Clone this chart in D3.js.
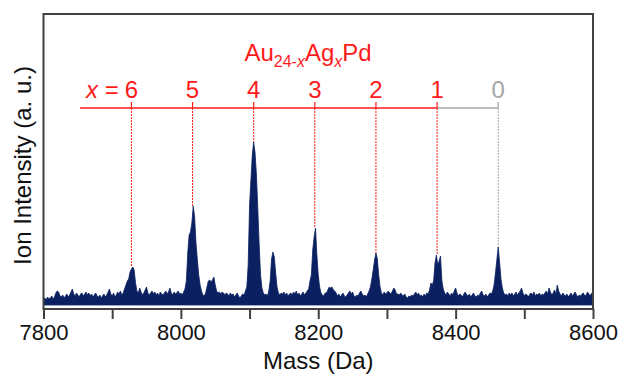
<!DOCTYPE html>
<html>
<head>
<meta charset="utf-8">
<script src="https://cdn.jsdelivr.net/npm/d3@7"></script>
<style>
  html, body { margin: 0; padding: 0; background: #fff; }
  svg { display: block; font-family: "Liberation Sans", Arial, sans-serif; }
</style>
</head>
<body>
<svg id="chart" width="620" height="379"></svg>
<script>
// Mass spectrum of Au(24-x)Ag(x)Pd clusters, 7800–8600 Da.

// Spectrum sampled every 2 Da starting at 7800 Da (intensity, arbitrary units)
const massStart = 7800;
const massStep = 2;
const intensity = [
  // 7800–7838
  6, 7, 5, 8, 6, 7, 9, 6, 8, 12, 14, 13, 9, 8, 10, 7, 9, 11, 8, 10,
  // 7840–7878
  13, 16, 11, 9, 12, 10, 8, 11, 12, 9, 11, 13, 10, 12, 9, 11, 8, 10, 12, 9,
  // 7880–7918
  8, 10, 7, 9, 11, 8, 10, 13, 16, 11, 9, 12, 8, 10, 13, 11, 14, 10, 12, 16,
  // 7920–7958
  20, 24, 26, 33, 36, 38, 35, 22, 14, 12, 17, 13, 10, 12, 15, 18, 12, 10, 12, 14,
  // 7960–7998
  11, 13, 10, 12, 9, 13, 11, 10, 12, 14, 11, 13, 17, 12, 10, 13, 11, 12, 14, 11,
  // 8000–8038
  12, 10, 13, 16, 24, 52, 70, 73, 82, 99, 88, 62, 45, 30, 20, 14, 10, 9, 12, 18,
  // 8040–8078
  24, 25, 23, 25, 28, 20, 14, 12, 13, 11, 13, 12, 10, 12, 11, 9, 12, 10, 11, 8,
  // 8080–8118
  10, 12, 9, 7, 9, 11, 10, 14, 18, 40, 100, 125, 150, 163, 152, 130, 96, 60, 30, 17,
  // 8120–8158
  12, 10, 11, 9, 14, 24, 46, 53, 48, 32, 18, 12, 10, 12, 11, 13, 10, 12, 9, 11,
  // 8160–8198
  12, 10, 13, 11, 14, 10, 12, 9, 11, 13, 10, 12, 14, 16, 24, 30, 55, 68, 77, 50,
  // 8200–8238
  30, 18, 12, 10, 9, 12, 12, 15, 18, 17, 18, 15, 14, 12, 9, 11, 8, 10, 12, 9,
  // 8240–8278
  8, 10, 12, 14, 11, 13, 9, 8, 10, 9, 12, 14, 11, 9, 10, 8, 11, 14, 18, 26,
  // 8280–8318
  35, 45, 52, 46, 30, 18, 12, 10, 13, 11, 12, 14, 12, 11, 14, 17, 15, 11, 11, 10,
  // 8320–8358
  12, 10, 9, 11, 8, 7, 9, 8, 10, 9, 11, 13, 10, 12, 9, 10, 8, 11, 9, 12,
  // 8360–8398
  11, 15, 22, 20, 24, 42, 50, 40, 44, 49, 24, 16, 12, 10, 13, 11, 9, 12, 10, 14,
  // 8400–8438
  17, 12, 9, 11, 10, 8, 11, 13, 10, 9, 11, 8, 10, 12, 9, 8, 10, 9, 12, 14,
  // 8440–8478
  10, 9, 11, 8, 10, 12, 11, 14, 20, 32, 45, 58, 43, 26, 17, 12, 10, 11, 9, 12,
  // 8480–8518
  10, 12, 9, 11, 13, 10, 12, 14, 17, 12, 9, 11, 10, 8, 11, 12, 10, 13, 9, 11,
  // 8520–8558
  10, 12, 9, 11, 10, 12, 14, 11, 17, 13, 10, 12, 15, 11, 20, 14, 11, 9, 12, 10,
  // 8560–8600
  9, 11, 8, 10, 12, 9, 11, 13, 10, 8, 10, 9, 11, 12, 9, 10, 13, 11, 9, 12, 10
];

// Assigned cluster peaks: number of Ag atoms and peak mass (Da)
const silverCounts = [6, 5, 4, 3, 2, 1, 0];
const peakMasses = [7928, 8017, 8106, 8195, 8284, 8373, 8462];

// Axis ticks
const xTicks = [7800, 7900, 8000, 8100, 8200, 8300, 8400, 8500, 8600];
const xTickLabels = [7800, 8000, 8200, 8400, 8600];

const spectrum = intensity.map((v, i) => ({ mass: massStart + i * massStep, value: v }));

const svg = d3.select("#chart");
const frame = { left: 43.5, right: 593, top: 14, bottom: 309 };
const baseY = 305;

const x = d3.scaleLinear().domain([7800, 8600]).range([frame.left, frame.right]);
const y = d3.scaleLinear().domain([0, 291]).range([baseY, baseY - 291]);

const axisColor = "#404040";
const red = "#ff1a1a";
const grey = "#a6a6a6";

// Spectrum
const area = d3.area()
  .x(d => x(d.mass))
  .y0(y(0))
  .y1(d => y(d.value));

svg.append("path")
  .datum(spectrum)
  .attr("d", area)
  .attr("fill", "#0a2060")
  .attr("stroke", "#0a2060")
  .attr("stroke-width", 0.8)
  .attr("stroke-linejoin", "miter");

// Plot frame
svg.append("rect")
  .attr("x", frame.left)
  .attr("y", frame.top)
  .attr("width", frame.right - frame.left)
  .attr("height", frame.bottom - frame.top)
  .attr("fill", "none")
  .attr("stroke", axisColor)
  .attr("stroke-width", 2);

// Bottom axis
const xAxis = d3.axisBottom(x)
  .tickValues(xTicks)
  .tickSize(10)
  .tickSizeOuter(0)
  .tickPadding(5)
  .tickFormat(d => xTickLabels.includes(d) ? String(d) : "");

const gx = svg.append("g")
  .attr("transform", `translate(0,${frame.bottom})`)
  .call(xAxis);
gx.select(".domain").remove();
gx.selectAll(".tick line").attr("stroke", axisColor).attr("stroke-width", 2);
gx.selectAll(".tick text")
  .attr("fill", "#111")
  .style("font-size", "22px")
  .style("font-family", "'Liberation Sans', Arial, sans-serif");

// Axis titles
svg.append("text")
  .attr("x", (frame.left + frame.right) / 2)
  .attr("y", 369)
  .attr("text-anchor", "middle")
  .attr("fill", "#111")
  .style("font-size", "24px")
  .text("Mass (Da)");

svg.append("text")
  .attr("transform", `translate(31,${(frame.top + frame.bottom) / 2 + 4}) rotate(-90)`)
  .attr("text-anchor", "middle")
  .attr("fill", "#111")
  .style("font-size", "24px")
  .text("Ion Intensity (a. u.)");

// Composition title: Au(24-x)Ag(x)Pd
const title = svg.append("text")
  .attr("x", 308)
  .attr("y", 61)
  .attr("text-anchor", "middle")
  .attr("fill", red)
  .style("font-size", "24px");
title.append("tspan").text("Au");
title.append("tspan").attr("dy", 6).style("font-size", "16px").text("24-");
title.append("tspan").style("font-size", "16px").style("font-style", "italic").text("x");
title.append("tspan").attr("dy", -6).text("Ag");
title.append("tspan").attr("dy", 6).style("font-size", "16px").style("font-style", "italic").text("x");
title.append("tspan").attr("dy", -6).text("Pd");

// Assignment ladder
const ladderY = 108;
const peaks = silverCounts.map((n, i) => {
  const m = peakMasses[i];
  const near = spectrum.filter(d => Math.abs(d.mass - m) <= 4);
  return { n, mass: m, top: d3.max(near, d => d.value) };
});
const colorOf = n => n === 0 ? grey : red;

// Horizontal bar: red over the Ag-containing members, grey for x = 0
svg.append("line")
  .attr("x1", 80).attr("x2", x(peakMasses[5]))
  .attr("y1", ladderY).attr("y2", ladderY)
  .attr("stroke", red).attr("stroke-width", 1.3);
svg.append("line")
  .attr("x1", x(peakMasses[5])).attr("x2", x(peakMasses[6]))
  .attr("y1", ladderY).attr("y2", ladderY)
  .attr("stroke", grey).attr("stroke-width", 1.3);

const ladder = svg.append("g");
ladder.selectAll("line.tick-up")
  .data(peaks)
  .join("line")
  .attr("class", "tick-up")
  .attr("x1", d => x(d.mass)).attr("x2", d => x(d.mass))
  .attr("y1", ladderY - 6).attr("y2", ladderY)
  .attr("stroke", d => colorOf(d.n))
  .attr("stroke-width", 1.2);

ladder.selectAll("line.drop")
  .data(peaks)
  .join("line")
  .attr("class", "drop")
  .attr("x1", d => x(d.mass)).attr("x2", d => x(d.mass))
  .attr("y1", ladderY).attr("y2", d => y(d.top))
  .attr("stroke", d => colorOf(d.n))
  .attr("stroke-width", 1)
  .attr("stroke-dasharray", "2,1");

ladder.selectAll("text.count")
  .data(peaks)
  .join("text")
  .attr("class", "count")
  .attr("x", d => x(d.mass))
  .attr("y", 98)
  .attr("text-anchor", "middle")
  .attr("fill", d => colorOf(d.n))
  .style("font-size", "24px")
  .text(d => d.n);

// "x = " prefix in front of the first count
const first = ladder.select("text.count").node();
const firstBox = first.getBBox();
const prefix = ladder.append("text")
  .attr("x", firstBox.x - 6)
  .attr("y", 98)
  .attr("text-anchor", "end")
  .attr("fill", red)
  .style("font-size", "24px")
  .style("white-space", "pre");
prefix.append("tspan").style("font-style", "italic").text("x");
prefix.append("tspan").text(" =");
</script>
</body>
</html>
